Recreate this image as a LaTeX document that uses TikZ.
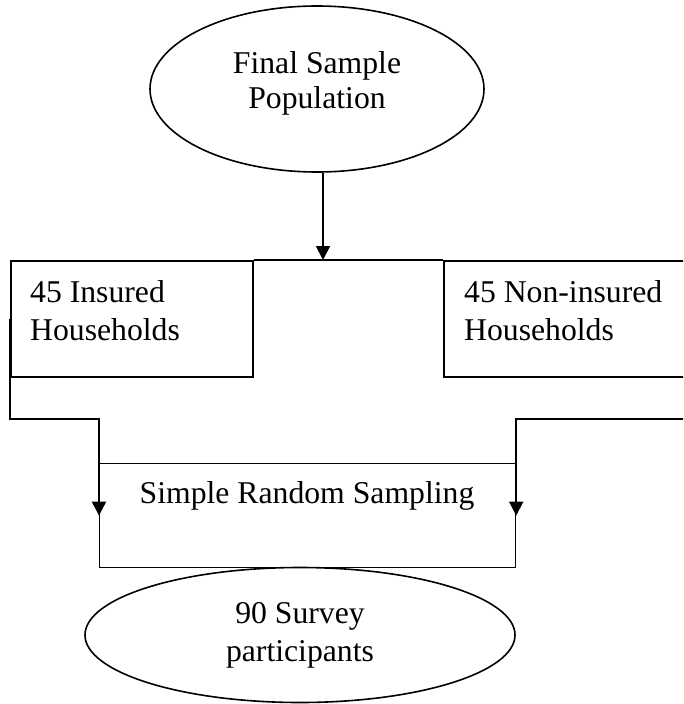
\documentclass[tikz,border=0pt]{standalone}
\usepackage{fontspec}
\setmainfont{Liberation Serif}
\usetikzlibrary{shapes.geometric,arrows.meta}
\begin{document}
\begin{tikzpicture}[x=1pt,y=-1pt,
  every node/.style={font=\fontsize{31.7}{38}\selectfont},
  oval/.style={draw, ellipse, line width=1.6pt, inner sep=0pt, align=center},
  box/.style={draw, rectangle, line width=1.6pt, inner sep=0pt},
  lbl/.style={inner sep=0pt, align=left, anchor=north west},
  conn/.style={line width=2pt},
  arr/.style={conn, -{Triangle[length=14pt,width=14pt]}}]
\useasboundingbox (0,0) rectangle (683,704);
\clip (0,0) rectangle (683,704);
\node[oval, minimum width=334pt, minimum height=166pt, font=\fontsize{31.7}{35}\selectfont] (pop) at (317,89) {Final Sample\\Population\rule[-17pt]{0pt}{17pt}};
\node[box, anchor=north west, minimum width=242pt, minimum height=116pt] (ins) at (10,260) {};
\node[lbl] (insT) at (30,280) {45 Insured\\Households};
\node[box, anchor=north west, minimum width=250pt, minimum height=116pt] (non) at (443,260) {};
\node[lbl] (nonT) at (464,280) {45 Non-insured\\Households};
\node[box, line width=1.2pt, anchor=north west, minimum width=416pt, minimum height=104pt] (srs) at (99,463) {};
\node[inner sep=0pt, anchor=base] (srsT) at (307,503) {Simple Random Sampling};
\node[oval, minimum width=430pt, minimum height=135pt] (part) at (300,635) {90 Survey\\participants};
\coordinate (jL) at (99,419);
\coordinate (jR) at (690,419);
\draw[conn] (ins.north east) -- (non.north west);
\draw[arr] ([xshift=6pt]pop.south) -- ([xshift=6pt]pop.south |- ins.north);
\draw[arr] (ins.west) |- (jL) -- (srs.west);
\draw[arr] (jR) -| (srs.east);
\end{tikzpicture}
\end{document}
